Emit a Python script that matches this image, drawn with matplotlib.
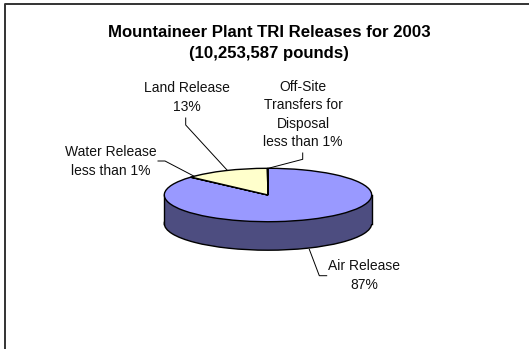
import matplotlib
matplotlib.use('Agg')
import matplotlib.pyplot as plt
from matplotlib.patches import Rectangle

plt.rcParams['font.family'] = ['Liberation Sans', 'DejaVu Sans']

# pie values, clockwise from 12 o'clock
categories = ['Air Release', 'Water Release', 'Land Release', 'Off-Site Transfers']
values = [86.6, 0.1, 13.2, 0.1]
colors = ['#9999FF', '#993366', '#FFFFCC', '#CCFFFF']

title = 'Mountaineer Plant TRI Releases for 2003\n(10,253,587 pounds)'
labels = [
    ('Air Release\n87%', 364, 275.5),
    ('Water Release\nless than 1%', 110.5, 161.5),
    ('Land Release\n13%', 186.5, 97.5),
    ('Off-Site\nTransfers for\nDisposal\nless than 1%', 303, 114.5),
]
leaders = [
    ([309.3, 319.3, 326.7], [249.3, 275.7, 275.7]),
    ([195, 165, 158], [176.7, 161, 161]),
    ([227, 185.7, 185.7], [170, 125, 118]),
    ([268.3, 302.7, 302.7], [168.3, 159.3, 153]),
]

W, H = 529, 349
fig = plt.figure(figsize=(W / 100, H / 100), dpi=100)

# overlay in pixel coordinates for frame, text and leader lines
bg = fig.add_axes([0, 0, 1, 1])
bg.set_xlim(0, W)
bg.set_ylim(H, 0)
bg.axis('off')
bg.plot([5, 5, W], [H, 4, 4], color='#333333', lw=1.4, solid_capstyle='butt')
bg.text(269, 43, title, ha='center', va='center', fontsize=12.1, fontweight='bold',
        color='black', linespacing=1.45)

# flattened pie: the axes are stretched so that circles become ellipses
cx, cy, rx, ry, depth = 268, 195, 103.7, 26.7, 28.5
ax = fig.add_axes([(cx - rx) / W, 1 - (cy + ry + depth) / H, 2 * rx / W, (2 * ry + depth) / H])
ax.patch.set_alpha(0)
d = 2 * depth / (2 * ry)
side = '#4D4D80'
kw = dict(linewidth=1.0, edgecolor='black')
ax.pie([1], colors=[side], center=(0, -d), radius=1, startangle=0, wedgeprops=kw)
ax.add_patch(Rectangle((-1, -d), 2, d, facecolor=side, edgecolor='none', zorder=2))
ax.plot([-1, -1], [-d, 0], color='black', lw=1.0, zorder=3)
ax.plot([1, 1], [-d, 0], color='black', lw=1.0, zorder=3)
ax.pie(values, colors=colors, startangle=90, counterclock=False, radius=1,
       wedgeprops=dict(linewidth=1.0, edgecolor='black', zorder=4))
ax.set_aspect('auto')
ax.set_xlim(-1, 1)
ax.set_ylim(-1 - d, 1)
for s in ax.get_children():
    s.set_clip_on(False)

for (txt, x, y), (lx, ly) in zip(labels, leaders):
    bg.text(x, y, txt, ha='center', va='center', fontsize=10, color='#111111', linespacing=1.4)
    bg.plot(lx, ly, color='black', lw=0.7, zorder=5)

fig.savefig('out.png', dpi=100, facecolor='white')
